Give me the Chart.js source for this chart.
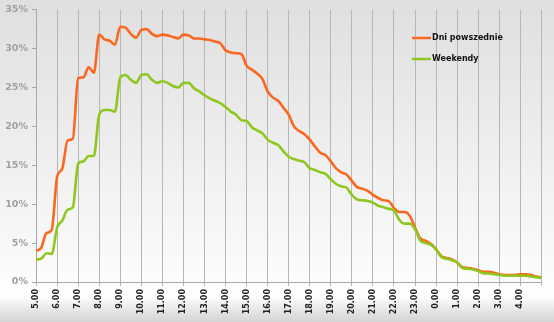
<!DOCTYPE html>
<html>
<head>
<meta charset="utf-8">
<script src="https://cdn.jsdelivr.net/npm/chart.js@4"></script>
<style>
  html, body { margin: 0; padding: 0; background: #fff; }
  #wrap { width: 554px; height: 322px; position: relative; }
</style>
</head>
<body>
<div id="wrap"><canvas id="chart"></canvas></div>
<script>
// hour ticks, one per hour starting at 5.00
const hourLabels = ['5.00','6.00','7.00','8.00','9.00','10.00','11.00','12.00','13.00','14.00','15.00','16.00',
  '17.00','18.00','19.00','20.00','21.00','22.00','23.00','0.00','1.00','2.00','3.00','4.00'];

const yTicks = [0, 5, 10, 15, 20, 25, 30, 35];

const seriesNames = ['Dni powszednie', 'Weekendy'];
const seriesColors = ['#fa6820', '#8ec81e'];

// share of users (%) every 15 minutes, 5.00 -> 5.00 next day
const weekday = [
  4.0, 4.4, 6.3, 6.7,   13.5, 14.6, 18.2, 18.4,   26.2, 26.3, 27.6, 26.9,   31.8, 31.2, 31.0, 30.5,
  32.8, 32.7, 31.9, 31.4,   32.4, 32.5, 31.9, 31.6,   31.8, 31.7, 31.5, 31.3,   31.8, 31.7, 31.3, 31.3,
  31.2, 31.1, 30.9, 30.7,   29.8, 29.5, 29.4, 29.3,   27.8, 27.3, 26.8, 26.1,   24.5, 23.7, 23.3, 22.4,
  21.5, 20.0, 19.4, 19.0,   18.3, 17.4, 16.6, 16.3,   15.5, 14.6, 14.1, 13.8,   13.0, 12.2, 12.0, 11.7,
  11.2, 10.8, 10.5, 10.4,   9.5, 9.0, 9.0, 8.5,   7.0, 5.6, 5.3, 4.9,   4.2, 3.3, 3.1, 2.9,
  2.5, 1.9, 1.8, 1.7,   1.5, 1.3, 1.3, 1.2,   1.0, 0.9, 0.9, 0.9,   1.0, 1.0, 0.9, 0.7,
  0.6
];
const weekend = [
  2.9, 3.0, 3.7, 3.6,   7.0, 7.9, 9.3, 9.6,   15.2, 15.5, 16.2, 16.2,   21.5, 22.1, 22.1, 21.9,
  26.3, 26.6, 26.0, 25.6,   26.6, 26.7, 26.0, 25.6,   25.8, 25.6, 25.2, 25.0,   25.6, 25.6, 24.9, 24.5,
  24.0, 23.6, 23.3, 23.0,   22.5, 21.9, 21.5, 20.8,   20.7, 19.9, 19.5, 19.1,   18.3, 17.9, 17.6, 16.8,
  16.1, 15.8, 15.6, 15.4,   14.6, 14.4, 14.1, 13.9,   13.2, 12.6, 12.3, 12.1,   11.2, 10.6, 10.5, 10.4,
  10.2, 9.8, 9.6, 9.4,   9.2, 8.0, 7.5, 7.5,   6.8, 5.3, 5.0, 4.8,   4.2, 3.2, 3.0, 2.8,
  2.5, 1.8, 1.7, 1.6,   1.4, 1.1, 1.1, 1.0,   0.9, 0.8, 0.8, 0.8,   0.8, 0.8, 0.7, 0.6,
  0.5
];

function toPoints(values) {
  return values.map((v, i) => ({ x: i / 4, y: v }));
}

// grey to white backdrop with the darker band at the bottom
const backdrop = {
  id: 'backdrop',
  beforeDraw(chart) {
    const { ctx, width, height } = chart;
    const g = ctx.createLinearGradient(0, 0, 0, height);
    g.addColorStop(0, '#dfdfdf');
    g.addColorStop(0.82, '#fafafa');
    g.addColorStop(0.92, '#ffffff');
    g.addColorStop(0.95, '#ededed');
    g.addColorStop(1, '#d4d4d4');
    ctx.save();
    ctx.fillStyle = g;
    ctx.fillRect(0, 0, width, height);
    ctx.restore();
  }
};

// legend sits inside the plot, top right
const innerLegend = {
  id: 'innerLegend',
  afterDraw(chart) {
    const { ctx } = chart;
    ctx.save();
    seriesNames.forEach((name, i) => {
      const y = 38 + i * 21;
      ctx.strokeStyle = seriesColors[i];
      ctx.lineWidth = 2.5;
      ctx.beginPath();
      ctx.moveTo(412, y);
      ctx.lineTo(431, y);
      ctx.stroke();
      ctx.fillStyle = '#111';
      ctx.font = 'bold 8px "DejaVu Sans"';
      ctx.textBaseline = 'middle';
      ctx.fillText(name, 432, y);
    });
    ctx.restore();
  }
};

new Chart(document.getElementById('chart'), {
  type: 'line',
  data: {
    datasets: [
      { label: seriesNames[0], data: toPoints(weekday), borderColor: seriesColors[0], order: 1 },
      { label: seriesNames[1], data: toPoints(weekend), borderColor: seriesColors[1], order: 0 }
    ]
  },
  options: {
    responsive: true,
    maintainAspectRatio: false,
    animation: false,
    layout: { padding: { top: 9, right: 9, left: 0, bottom: 0 } },
    elements: {
      line: { borderWidth: 2.6, cubicInterpolationMode: 'monotone', fill: false },
      point: { radius: 0 }
    },
    plugins: { legend: { display: false }, tooltip: { enabled: false } },
    scales: {
      x: {
        type: 'linear',
        min: 0,
        max: 24,
        afterBuildTicks: s => { s.ticks = hourLabels.map((_, i) => ({ value: i })).concat([{ value: 24 }]); },
        afterFit: s => { s.height = 40; },
        ticks: {
          autoSkip: false,
          minRotation: 90,
          maxRotation: 90,
          padding: 3,
          color: '#222',
          font: { family: 'DejaVu Sans', weight: 'bold', size: 8 },
          callback: v => hourLabels[v] ?? ''
        },
        grid: { color: '#b6b6b6', tickLength: 4, drawOnChartArea: true },
        border: { color: '#a8a8a8' }
      },
      y: {
        min: 0,
        max: 35,
        afterBuildTicks: s => { s.ticks = yTicks.map(v => ({ value: v })); },
        afterFit: s => { s.width = 36; },
        ticks: {
          padding: 4,
          color: '#a0a0a0',
          font: { family: 'DejaVu Sans', weight: 'bold', size: 9.5 },
          callback: v => v + '%'
        },
        grid: { drawOnChartArea: false, tickLength: 4, color: '#a8a8a8' },
        border: { color: '#a8a8a8' }
      }
    }
  },
  plugins: [backdrop, innerLegend]
});
</script>
</body>
</html>
